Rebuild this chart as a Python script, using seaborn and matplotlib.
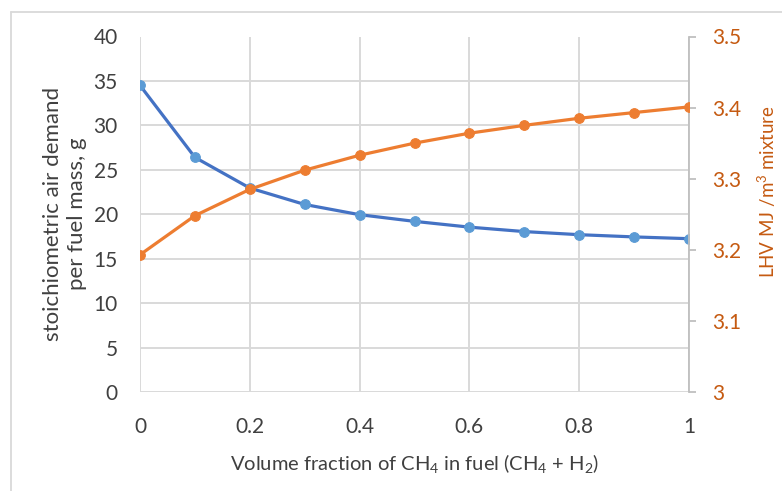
import matplotlib
matplotlib.use("Agg")
import matplotlib.pyplot as plt
import seaborn as sns
import pandas as pd
from matplotlib.lines import Line2D

# Volume fraction of CH4 in the CH4/H2 fuel blend
ch4_fraction = [0.0, 0.1, 0.2, 0.3, 0.4, 0.5, 0.6, 0.7, 0.8, 0.9, 1.0]
# Stoichiometric air demand per fuel mass, g
air_demand = [34.5, 26.4, 22.95, 21.1, 19.95, 19.2, 18.55, 18.05, 17.7, 17.45, 17.25]
# Lower heating value of the mixture, MJ/m3
lhv = [3.193, 3.248, 3.285, 3.312, 3.333, 3.350, 3.364, 3.375, 3.385, 3.393, 3.401]

left_ticks = [0, 5, 10, 15, 20, 25, 30, 35, 40]
right_ticks = [3.0, 3.1, 3.2, 3.3, 3.4, 3.5]
right_tick_labels = ["3", "3.1", "3.2", "3.3", "3.4", "3.5"]
x_ticks = [0, 0.2, 0.4, 0.6, 0.8, 1.0]
x_tick_labels = ["0", "0.2", "0.4", "0.6", "0.8", "1"]

sns.set_theme(style="white")
plt.rcParams["font.family"] = ["Lato", "DejaVu Sans"]
plt.rcParams["mathtext.default"] = "regular"

df = pd.DataFrame({"x": ch4_fraction, "air": air_demand, "lhv": lhv})

BLUE_LINE = "#4472C4"
BLUE_MARK = "#5B9BD5"
ORANGE = "#ED7D31"
ORANGE_TXT = "#C55A11"
GRID = "#D9D9D9"
TXT = "#404040"

fig = plt.figure(figsize=(7.82, 4.91), dpi=100)
ax = fig.add_axes([140 / 782, 1 - 392 / 491, (689 - 140) / 782, (392 - 36.5) / 491])
ax2 = ax.twinx()

sns.lineplot(data=df, x="x", y="air", ax=ax, color=BLUE_LINE, linewidth=2.3,
             marker="o", markersize=7, markerfacecolor=BLUE_MARK,
             markeredgecolor=BLUE_MARK, zorder=3)
sns.lineplot(data=df, x="x", y="lhv", ax=ax2, color=ORANGE, linewidth=2.3,
             marker="o", markersize=7, markerfacecolor=ORANGE,
             markeredgecolor=ORANGE, zorder=3)

ax.set_xlim(0, 1)
ax.set_ylim(0, 40)
ax2.set_ylim(3.0, 3.5)

ax.set_yticks(left_ticks)
ax.set_yticklabels([str(t) for t in left_ticks])
ax.set_xticks(x_ticks)
ax.set_xticklabels(x_tick_labels)
ax2.set_yticks(right_ticks)
ax2.set_yticklabels(right_tick_labels)

ax.grid(True, color=GRID, linewidth=1.4)
ax.set_axisbelow(True)
ax2.grid(False)

for s in ["top", "right", "left", "bottom"]:
    ax.spines[s].set_visible(False)
for s in ["top", "left", "bottom"]:
    ax2.spines[s].set_visible(False)
ax2.spines["right"].set_visible(True)
ax2.spines["right"].set_color("#BFBFBF")
ax2.spines["right"].set_linewidth(1.3)

ax.tick_params(axis="y", length=0, pad=16, labelsize=15, labelcolor=TXT)
ax.tick_params(axis="x", length=0, pad=18, labelsize=15, labelcolor=TXT)
ax2.tick_params(axis="y", length=5, width=1.3, color="#BFBFBF", pad=12,
                labelsize=15, labelcolor=ORANGE_TXT, direction="out")

ax.set_xlabel("Volume fraction of CH$_4$ in fuel (CH$_4$ + H$_2$)",
              fontsize=14.5, color=TXT)
ax.xaxis.set_label_coords(0.5, -0.17)
ax.set_ylabel("stoichiometric air demand\nper fuel mass, g",
              fontsize=16, color=TXT, linespacing=1.25)
ax.yaxis.set_label_coords(-0.097, 0.5)
ax2.set_ylabel("LHV MJ /m$^3$ mixture", fontsize=13.5, color=ORANGE_TXT)
ax2.yaxis.set_label_coords(1.122, 0.563)

# chart frame
fig.add_artist(Line2D([11 / 782, 1], [1 - 12 / 491, 1 - 12 / 491],
                      transform=fig.transFigure, color="#D9D9D9", linewidth=1.3))
fig.add_artist(Line2D([11 / 782, 11 / 782], [0, 1 - 12 / 491],
                      transform=fig.transFigure, color="#D9D9D9", linewidth=1.3))

fig.savefig("out.png", dpi=100)
